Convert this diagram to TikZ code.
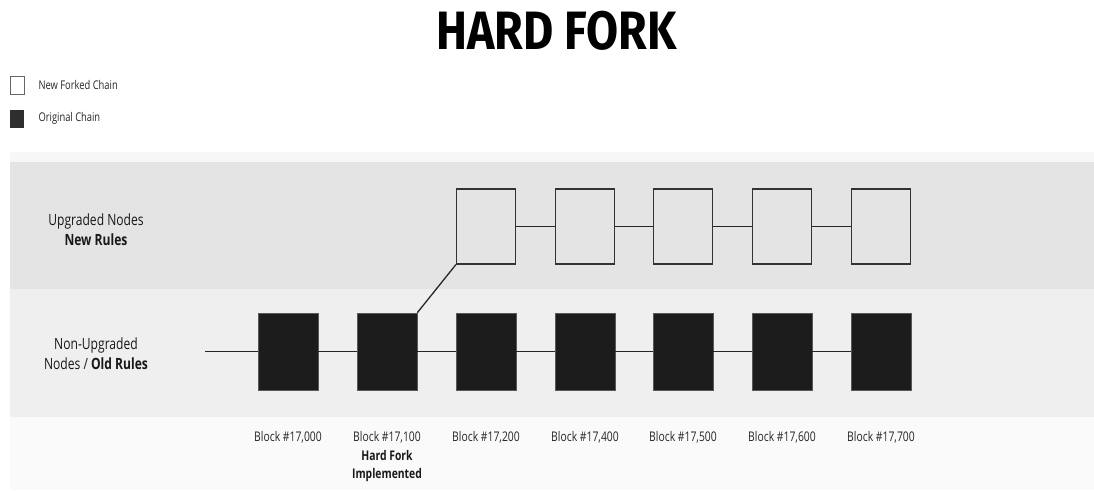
\documentclass[tikz,border=0pt]{standalone}
\usepackage{fontspec}
\setmainfont[FakeStretch=0.78]{Open Sans}
\newfontfamily\titlefont[FakeStretch=0.86]{Fira Sans}
\usetikzlibrary{positioning}

\definecolor{bandtop}{HTML}{F7F7F7}
\definecolor{bandnew}{HTML}{E4E4E4}
\definecolor{bandold}{HTML}{EFEFEF}
\definecolor{bandfoot}{HTML}{FAFAFA}
\definecolor{blockdark}{HTML}{1C1C1C}

\tikzset{
  newblock/.style={draw=black!80, line width=1.2pt, minimum width=59pt,
    minimum height=75pt, inner sep=0pt},
  oldblock/.style={fill=blockdark, draw=black!65, line width=0.6pt,
    minimum width=60pt, minimum height=77pt, inner sep=0pt},
  link/.style={draw=black!85, line width=1.3pt},
  blocklabel/.style={font=\fontsize{13.3}{18}\selectfont, text=black!85},
  rowlabel/.style={align=center, font=\fontsize{15.5}{20}\selectfont, text=black!90},
  legendtext/.style={anchor=west, font=\fontsize{12}{14}\selectfont, text=black!85}
}

\begin{document}
\begin{tikzpicture}[x=1pt, y=-1pt]
  \useasboundingbox (0,0) rectangle (1094,490);
  % bands, px from the top
  \fill[bandtop] (10,152) rectangle (1094,162);
  \fill[bandnew] (10,162) rectangle (1094,289);
  \fill[bandold] (10,289) rectangle (1094,417);
  \fill[bandfoot] (10,417) rectangle (1094,490);

  \node[anchor=base] (title) at (556.5,49)
    {\titlefont\bfseries\fontsize{54}{54}\selectfont HARD FORK};

  % legend
  \node[draw=black!60, line width=0.8pt, fill=white, minimum width=14pt,
    minimum height=18pt, inner sep=0pt] (keynew) at (17,85) {};
  \node[legendtext] (keynewtext) at (35,85) {New Forked Chain};
  \node[fill=black!82, minimum width=14pt, minimum height=18pt,
    inner sep=0pt] (keyold) at (17,118.5) {};
  \node[legendtext] (keyoldtext) at (35,118.5) {Original Chain};

  \node[rowlabel] (rownew) at (96,230) {Upgraded Nodes\\\textbf{New Rules}};
  \node[rowlabel] (rowold) at (96,354) {Non-Upgraded\\Nodes / \textbf{Old Rules}};

  % chains
  \coordinate (start) at (205,351.5);
  \foreach \i/\x/\num in {1/288/{17,000}, 2/387/{17,100}, 3/486/{17,200},
      4/585/{17,400}, 5/683/{17,500}, 6/782/{17,600}, 7/881/{17,700}} {
    \node[oldblock] (b\i) at (\x,351.5) {};
    \node[blocklabel] (lb\i) at (\x,437) {Block \#\num};
  }
  \foreach \i/\x in {3/486, 4/585, 5/683, 6/782, 7/881}
    \node[newblock] (n\i) at (\x,226.5) {};

  \draw[link] (start) -- (b1) -- (b2) -- (b3) -- (b4) -- (b5) -- (b6) -- (b7);
  \draw[link] (n3) -- (n4) -- (n5) -- (n6) -- (n7);
  \draw[link] (b2.north east) -- (n3.south west);

  \node[blocklabel, align=center, font=\bfseries\fontsize{13.3}{18}\selectfont,
    text=black!90, below=0pt of lb2] (forklabel) {Hard Fork\\Implemented};
\end{tikzpicture}
\end{document}
